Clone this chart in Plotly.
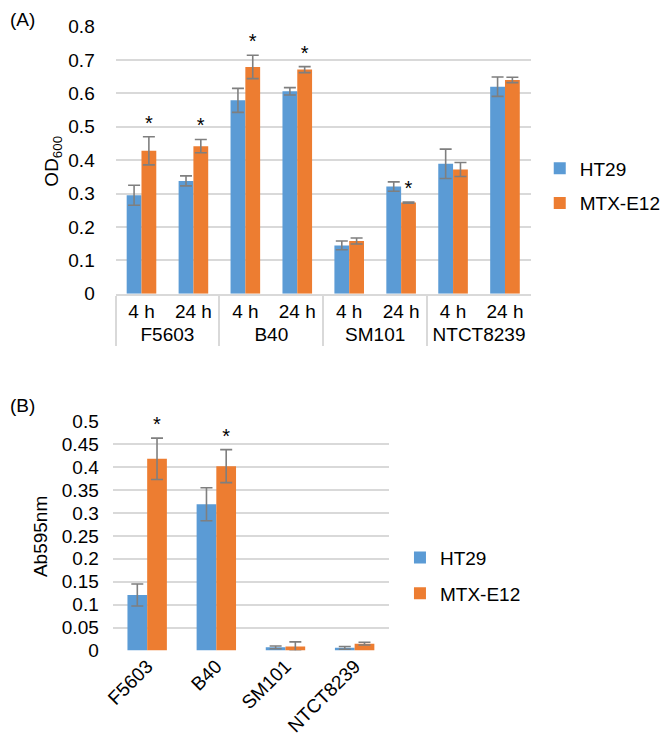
import plotly.graph_objects as go

# ---------------- data: panel A ----------------
a_strain = ["F5603", "F5603", "B40", "B40", "SM101", "SM101", "NTCT8239", "NTCT8239"]
a_time = ["4 h", "24 h", "4 h", "24 h", "4 h", "24 h", "4 h", "24 h"]
a_ht29 = [0.295, 0.338, 0.579, 0.606, 0.145, 0.321, 0.389, 0.620]
a_ht29_err = [0.030, 0.015, 0.036, 0.011, 0.013, 0.014, 0.044, 0.029]
a_mtx = [0.428, 0.442, 0.679, 0.671, 0.158, 0.273, 0.372, 0.640]
a_mtx_err = [0.042, 0.020, 0.035, 0.009, 0.009, 0.002, 0.021, 0.008]
a_sig = [True, True, True, True, False, True, False, False]
a_ticks = [0, 0.1, 0.2, 0.3, 0.4, 0.5, 0.6, 0.7, 0.8]
a_ticktext = ["0", "0.1", "0.2", "0.3", "0.4", "0.5", "0.6", "0.7", "0.8"]

# ---------------- data: panel B ----------------
b_strain = ["F5603", "B40", "SM101", "NTCT8239"]
b_ht29 = [0.121, 0.319, 0.007, 0.006]
b_ht29_err = [0.024, 0.036, 0.003, 0.003]
b_mtx = [0.418, 0.402, 0.009, 0.015]
b_mtx_err = [0.045, 0.036, 0.010, 0.003]
b_sig = [True, True, False, False]
b_ticks = [0, 0.05, 0.1, 0.15, 0.2, 0.25, 0.3, 0.35, 0.4, 0.45, 0.5]
b_ticktext = ["0", "0.05", "0.1", "0.15", "0.2", "0.25", "0.3", "0.35", "0.4", "0.45", "0.5"]

series_names = ["HT29", "MTX-E12"]
BLUE = "#5B9BD5"
ORANGE = "#ED7D31"
ERR = "#7F7F7F"
GRID = "#D9D9D9"
FONT = "Liberation Sans, Arial, sans-serif"
FS = 19

W, H = 666, 751


def err(arr):
    return dict(type="data", array=arr, color=ERR, thickness=1.6, width=6, visible=True)


fig = go.Figure()

# Panel A
a_x = [a_strain, a_time]
fig.add_trace(go.Bar(x=a_x, y=a_ht29, error_y=err(a_ht29_err), name=series_names[0],
                     marker=dict(color=BLUE, line=dict(width=0)), offsetgroup="h",
                     legend="legend", legendgroup="h", xaxis="x", yaxis="y"))
fig.add_trace(go.Bar(x=a_x, y=a_mtx, error_y=err(a_mtx_err), name=series_names[1],
                     marker=dict(color=ORANGE, line=dict(width=0)), offsetgroup="m",
                     legend="legend", legendgroup="m", xaxis="x", yaxis="y"))
a_star_idx = [i for i, s in enumerate(a_sig) if s]
fig.add_trace(go.Bar(x=[[a_strain[i] for i in a_star_idx], [a_time[i] for i in a_star_idx]],
                     y=[a_mtx[i] + a_mtx_err[i] for i in a_star_idx],
                     text=["*" for _ in a_star_idx], textposition="outside",
                     textfont=dict(family=FONT, size=20, color="#000000"),
                     marker=dict(color="rgba(0,0,0,0)", line=dict(width=0)), offsetgroup="m",
                     showlegend=False, hoverinfo="skip", cliponaxis=False, constraintext="none",
                     xaxis="x", yaxis="y"))

# Panel B
fig.add_trace(go.Bar(x=b_strain, y=b_ht29, error_y=err(b_ht29_err), name=series_names[0],
                     marker=dict(color=BLUE, line=dict(width=0)), offsetgroup="h",
                     legend="legend2", legendgroup="h2", xaxis="x2", yaxis="y2"))
fig.add_trace(go.Bar(x=b_strain, y=b_mtx, error_y=err(b_mtx_err), name=series_names[1],
                     marker=dict(color=ORANGE, line=dict(width=0)), offsetgroup="m",
                     legend="legend2", legendgroup="m2", xaxis="x2", yaxis="y2"))
b_star_idx = [i for i, s in enumerate(b_sig) if s]
fig.add_trace(go.Bar(x=[b_strain[i] for i in b_star_idx],
                     y=[b_mtx[i] + b_mtx_err[i] for i in b_star_idx],
                     text=["*" for _ in b_star_idx], textposition="outside",
                     textfont=dict(family=FONT, size=20, color="#000000"),
                     marker=dict(color="rgba(0,0,0,0)", line=dict(width=0)), offsetgroup="m",
                     showlegend=False, hoverinfo="skip", cliponaxis=False, constraintext="none",
                     xaxis="x2", yaxis="y2"))

tickfont = dict(family=FONT, size=FS, color="#000000")

fig.update_layout(
    width=W, height=H,
    margin=dict(l=0, r=0, t=0, b=0),
    paper_bgcolor="white", plot_bgcolor="white",
    font=dict(family=FONT, size=FS, color="#000000"),
    barmode="group", bargap=0.43, bargroupgap=0,
    xaxis=dict(domain=[110 / W, 535 / W], anchor="y", type="multicategory",
               range=[-0.5, 7.5], categoryorder="trace",
               showline=True, linecolor=GRID, linewidth=1.5, mirror=False,
               showdividers=True, dividercolor=GRID, dividerwidth=1.5,
               tickfont=tickfont, showgrid=False, ticks=""),
    yaxis=dict(domain=[1 - 292 / H, 1 - 17 / H], anchor="x", range=[0, 0.8],
               tickvals=a_ticks, ticktext=a_ticktext, tickfont=tickfont,
               showgrid=True, gridcolor=GRID, gridwidth=1.5, zeroline=False,
               showline=False, ticks="outside", ticklen=16, tickcolor="rgba(0,0,0,0)"),
    xaxis2=dict(domain=[107 / W, 390 / W], anchor="y2", tickangle=-45,
                range=[-0.5, 3.5],
                tickfont=tickfont, showline=False, showgrid=False, ticks=""),
    yaxis2=dict(domain=[1 - 659 / H, 1 - 423 / H], anchor="x2", range=[0, 0.5],
                tickvals=b_ticks, ticktext=b_ticktext, tickfont=tickfont,
                showgrid=True, gridcolor=GRID, gridwidth=1.5, zeroline=False,
                showline=False, ticks="outside", ticklen=9, tickcolor="rgba(0,0,0,0)"),
    legend=dict(x=544 / W, y=1 - 181 / H, xanchor="left", yanchor="middle",
                font=tickfont, tracegroupgap=7, traceorder="grouped",
                bgcolor="rgba(0,0,0,0)", itemwidth=30),
    legend2=dict(x=401 / W, y=1 - 582 / H, xanchor="left", yanchor="middle",
                 font=tickfont, tracegroupgap=8, traceorder="grouped",
                 bgcolor="rgba(0,0,0,0)", itemwidth=30),
    annotations=[
        dict(text="(A)", xref="paper", yref="paper", x=0, y=1.004, xanchor="left",
             yanchor="top", showarrow=False, font=tickfont),
        dict(text="(B)", xref="paper", yref="paper", x=0, y=1 - 407 / H, xanchor="left",
             yanchor="middle", showarrow=False, font=tickfont),
        dict(text="OD<sub>600</sub>", xref="paper", yref="paper", x=46 / W,
             y=1 - 155 / H, xanchor="center", yanchor="middle", textangle=-90,
             showarrow=False, font=tickfont),
        dict(text="Ab595nm", xref="paper", yref="paper", x=34 / W,
             y=1 - 542 / H, xanchor="center", yanchor="middle", textangle=-90,
             showarrow=False, font=tickfont),
    ],
)

# remove the browser's default 8px page margin so the figure sits at (0, 0)
fig.write_html("out.html", config={"displayModeBar": False},
               post_script="document.body.style.margin='0';document.body.style.overflow='hidden';")
